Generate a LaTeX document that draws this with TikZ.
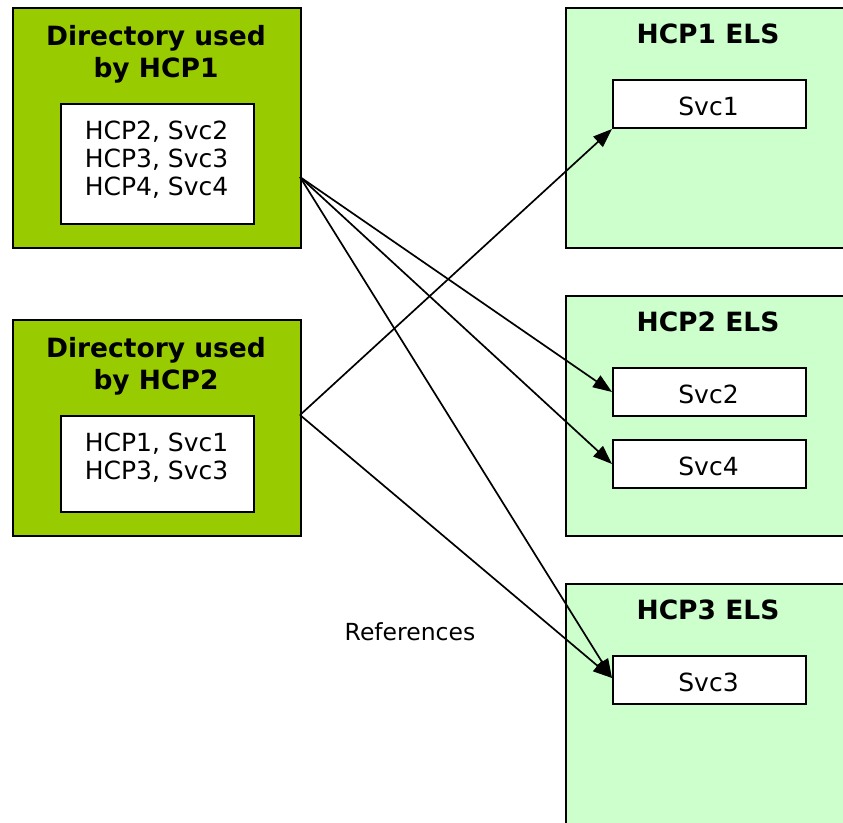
\documentclass[tikz,border=0pt]{standalone}
\usepackage{fontspec}
\setmainfont{DejaVu Sans}
\usetikzlibrary{arrows.meta}
\definecolor{dirgreen}{HTML}{99CC00}
\definecolor{elsgreen}{HTML}{CCFFCC}
\begin{document}
\begin{tikzpicture}[x=1bp,y=-1bp,
  box/.style={draw=black,line width=2bp,minimum width=#1,inner sep=0pt,anchor=north west},
  dirbox/.style={fill=dirgreen},
  elsbox/.style={fill=elsgreen},
  inbox/.style={fill=white},
  ttl/.style={font=\fontsize{26.5bp}{30bp}\selectfont\bfseries,anchor=base,inner sep=0pt},
  txt/.style={font=\fontsize{25bp}{28bp}\selectfont,anchor=base,inner sep=0pt},
  ref/.style={draw=black,line width=1.7bp,-{Triangle[length=19bp,width=14bp]}}]
\useasboundingbox (0,0) rectangle (843,823);
% left directory boxes
\node[box=288bp,dirbox,minimum height=240bp] (dir1) at (12,7) {};
\node[box=193bp,inbox,minimum height=120bp] (in1) at (60,103) {};
\node[box=288bp,dirbox,minimum height=216bp] (dir2) at (12,319) {};
\node[box=193bp,inbox,minimum height=96bp] (in2) at (60,415) {};
% right ELS boxes
\node[box=290bp,elsbox,minimum height=240bp] (els1) at (565,7) {};
\node[box=193bp,inbox,minimum height=48bp] (svc1) at (612,79) {};
\node[box=290bp,elsbox,minimum height=240bp] (els2) at (565,295) {};
\node[box=193bp,inbox,minimum height=48bp] (svc2) at (612,367) {};
\node[box=193bp,inbox,minimum height=48bp] (svc4) at (612,439) {};
\node[box=290bp,elsbox,minimum height=250bp] (els3) at (565,583) {};
\node[box=193bp,inbox,minimum height=48bp] (svc3) at (612,655) {};
% titles
\node[ttl] (d1a) at (156,45) {Directory used};
\node[ttl] (d1b) at (156,77) {by HCP1};
\node[ttl] (d2a) at (156,357) {Directory used};
\node[ttl] (d2b) at (156,389) {by HCP2};
\node[ttl] (e1) at (708,43) {HCP1 ELS};
\node[ttl] (e2) at (708,331) {HCP2 ELS};
\node[ttl] (e3) at (708,619) {HCP3 ELS};
% texts
\node[txt] (t11) at (156.5,139) {HCP2, Svc2};
\node[txt] (t12) at (156.5,167) {HCP3, Svc3};
\node[txt] (t13) at (156.5,195) {HCP4, Svc4};
\node[txt] (t21) at (156.5,451) {HCP1, Svc1};
\node[txt] (t22) at (156.5,479) {HCP3, Svc3};
\node[txt] (s1t) at (708.5,115) {Svc1};
\node[txt] (s2t) at (708.5,403) {Svc2};
\node[txt] (s4t) at (708.5,475) {Svc4};
\node[txt] (s3t) at (708.5,691) {Svc3};
\node[txt,font=\fontsize{23.5bp}{28bp}\selectfont] (refs) at (410,640) {References};
% connectors
\coordinate (o1) at (300,177);
\coordinate (o2) at (300,415);
\draw[ref] (o1) -- (svc2.west);
\draw[ref] (o1) -- (svc4.west);
\draw[ref] (o1) -- ([yshift=2bp]svc3.west);
\draw[ref] (o2) -- (svc1.south west);
\draw[ref] (o2) -- ([yshift=2bp]svc3.west);
\end{tikzpicture}
\end{document}
